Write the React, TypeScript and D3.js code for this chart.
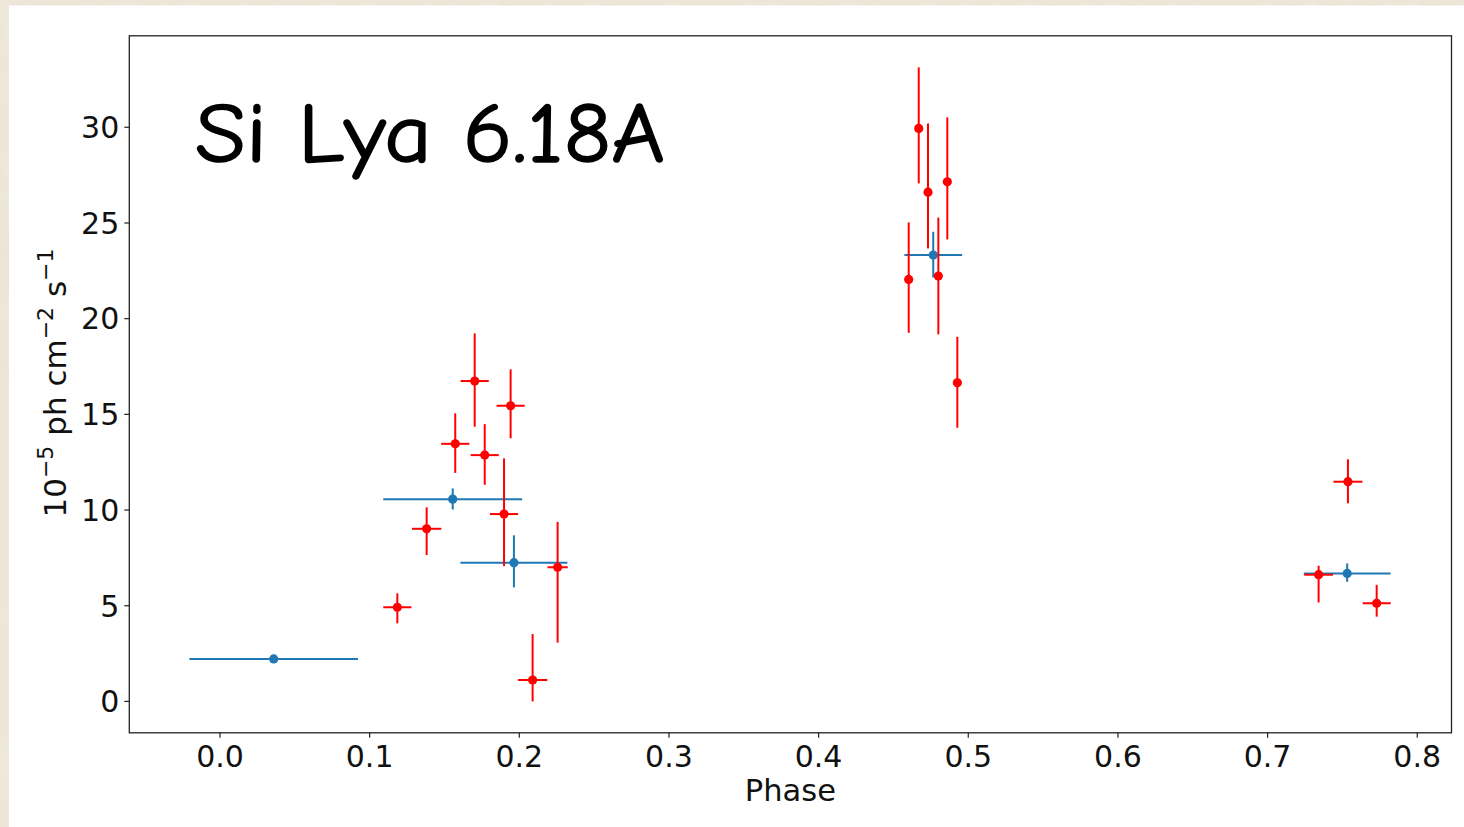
import * as d3 from "d3";

// red points (individual observations)
const redPhase = [0.1185, 0.1381, 0.1572, 0.1702, 0.1769, 0.1942, 0.1898, 0.2256, 0.2089, 0.4669, 0.4731, 0.486, 0.4602, 0.48, 0.4927, 0.7537, 0.7341, 0.7729];
const redFlux = [4.92, 9.02, 13.46, 16.74, 12.87, 15.45, 9.79, 7.01, 1.12, 29.94, 26.61, 27.15, 22.05, 22.23, 16.65, 11.48, 6.62, 5.13];
const redXErr = [0.0094, 0.0098, 0.0094, 0.0094, 0.0094, 0.0094, 0.0094, 0.0068, 0.0098, 0, 0, 0, 0, 0, 0, 0.0097, 0.0096, 0.0094];
const redYErrLo = [0.84, 1.37, 1.52, 2.39, 1.55, 1.7, 2.72, 3.94, 1.12, 2.87, 2.94, 3.01, 2.79, 3.05, 2.35, 1.13, 1.45, 0.7];
const redYErrHi = [0.73, 1.12, 1.59, 2.49, 1.62, 1.9, 2.91, 2.37, 2.4, 3.19, 3.59, 3.37, 2.98, 3.05, 2.4, 1.17, 0.47, 0.96];

// blue points (binned)
const bluePhase = [0.0359, 0.1555, 0.1964, 0.4766, 0.7532];
const blueFlux = [2.22, 10.57, 7.25, 23.32, 6.69];
const blueXErr = [0.0563, 0.0464, 0.0357, 0.0193, 0.029];
const blueYErrLo = [0.1, 0.54, 1.29, 1.17, 0.44];
const blueYErrHi = [0.1, 0.56, 1.43, 1.22, 0.52];

const xTicks = [0, 0.1, 0.2, 0.3, 0.4, 0.5, 0.6, 0.7, 0.8];
const yTicks = [0, 5, 10, 15, 20, 25, 30];

const title = "Si Lya 6.18A";

export default function App() {
  const W = 1464;
  const H = 827;
  const left = 129.3;
  const right = 1451.5;
  const top = 35.8;
  const bottom = 732.8;

  const x = d3.scaleLinear().domain([-0.0606, 0.8229]).range([left, right]);
  const y = d3.scaleLinear().domain([-1.64, 34.78]).range([bottom, top]);
  const fmt = d3.format(".1f");

  const errPoints = (
    px: number[], py: number[], xe: number[], lo: number[], hi: number[], color: string, key: string
  ) =>
    px.map((p, i) => (
      <g key={key + i}>
        {xe[i] > 0 && (
          <line x1={x(p - xe[i])} x2={x(p + xe[i])} y1={y(py[i])} y2={y(py[i])} stroke={color} strokeWidth={2} />
        )}
        <line x1={x(p)} x2={x(p)} y1={y(py[i] - lo[i])} y2={y(py[i] + hi[i])} stroke={color} strokeWidth={2} />
        <circle cx={x(p)} cy={y(py[i])} r={4.6} fill={color} />
      </g>
    ));

  return (
    <svg width={W} height={H} style={{ position: "absolute", left: 0, top: 0 }}>
      <defs>
        <filter id="paper" x="0" y="0" width="100%" height="100%">
          <feTurbulence type="fractalNoise" baseFrequency="0.05 0.015" numOctaves={3} seed={4} />
          <feColorMatrix type="matrix" values="0 0 0 0 0.86  0 0 0 0 0.81  0 0 0 0 0.71  0 0 0 -1.2 1.2" />
        </filter>
      </defs>
      <rect width={W} height={H} fill="#ebe3d3" />
      <rect width={W} height={H} filter="url(#paper)" />
      <rect x={9} y={5.5} width={W - 9} height={H - 5.5} fill="#ffffff" />

      {/* y ticks */}
      {yTicks.map((t) => (
        <g key={"y" + t}>
          <line x1={left - 5} x2={left} y1={y(t)} y2={y(t)} stroke="#222" strokeWidth={1.2} />
          <text x={left - 10} y={y(t)} dy="0.36em" textAnchor="end" fontFamily="DejaVu Sans" fontSize={30} fill="#111">
            {t}
          </text>
        </g>
      ))}

      {/* x ticks */}
      {xTicks.map((t) => (
        <g key={"x" + t}>
          <line x1={x(t)} x2={x(t)} y1={bottom} y2={bottom + 5} stroke="#222" strokeWidth={1.2} />
          <text x={x(t)} y={bottom + 34} textAnchor="middle" fontFamily="DejaVu Sans" fontSize={30} fill="#111">
            {fmt(t)}
          </text>
        </g>
      ))}

      <text x={(left + right) / 2} y={801} textAnchor="middle" fontFamily="DejaVu Sans" fontSize={30.5} fill="#111">
        Phase
      </text>
      <text
        transform={`translate(66,383) rotate(-90)`}
        textAnchor="middle"
        fontFamily="DejaVu Sans"
        fontSize={31}
        fill="#111"
      >
        10<tspan dy={-13} fontSize={22}>−5</tspan>
        <tspan dy={13}> ph cm</tspan>
        <tspan dy={-13} fontSize={22}>−2</tspan>
        <tspan dy={13}> s</tspan>
        <tspan dy={-13} fontSize={22}>−1</tspan>
      </text>

      {errPoints(bluePhase, blueFlux, blueXErr, blueYErrLo, blueYErrHi, "#1f77b4", "b")}
      {errPoints(redPhase, redFlux, redXErr, redYErrLo, redYErrHi, "#ff0000", "r")}

      <rect x={left} y={top} width={right - left} height={bottom - top} fill="none" stroke="#222" strokeWidth={1.3} />

      <text
        x={195}
        y={162}
        fontFamily="'Comic Sans MS', 'Comic Neue', 'DejaVu Sans', sans-serif"
        fontSize={84}
        textLength={470}
        lengthAdjust="spacingAndGlyphs"
        fill="#000"
        stroke="#000"
        strokeWidth={1.5}
      >
        {title}
      </text>
    </svg>
  );
}
